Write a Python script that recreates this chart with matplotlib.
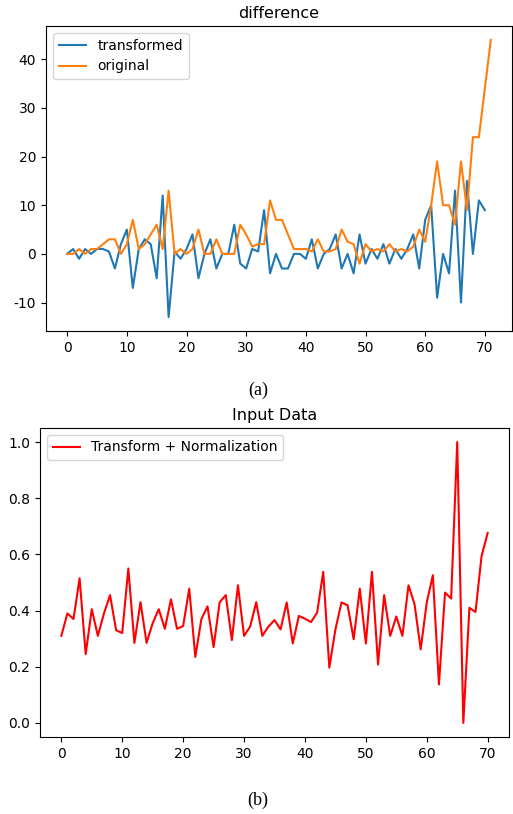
import matplotlib
matplotlib.use("Agg")
import matplotlib.pyplot as plt

plt.rcParams['axes.unicode_minus'] = False

# top panel: "difference"
transformed = [0, 1, -1, 1, 0, 1, 1, 0.5, -3, 2, 5, -7, 1, 3, 2, -5, 12, -13, 0.5, -1,
               1, 4, -5, 0, 3, -3, 0, 0, 6, -2, -3, 1, 0.5, 9, -4, 0, -3, -3, 0, 0,
               -1, 3, -3, 0, 1, 4, -3, 0, -4, 4, -2, 1, -1, 2, -2, 1, -1, 1, 4, -3,
               7, 10, -9, 0, -4, 13, -10, 15, 0, 11, 9]
original = [0, 0, 1, 0, 1, 1, 2, 3, 3, 0, 2, 7, 1, 2, 4, 6, 1, 13, 0, 1,
            0, 1, 5, 0, 0, 3, 0, 0, 0, 6, 4, 1.5, 2, 2, 11, 7, 7, 4, 1, 1,
            1, 0.5, 3, 0.5, 0.5, 1, 5, 2.5, 2, -2, 2, 0.5, 1, 0.5, 2, 0.5, 1, 0.5, 1.5, 5,
            2.5, 10, 19, 10, 10, 6, 19, 9, 24, 24, 34, 44]

# bottom panel: "Input Data"
normalized = [0.31, 0.39, 0.37, 0.515, 0.245, 0.405, 0.31, 0.39, 0.455, 0.33,
              0.32, 0.55, 0.285, 0.43, 0.285, 0.355, 0.405, 0.335, 0.44, 0.335,
              0.345, 0.478, 0.235, 0.37, 0.415, 0.27, 0.43, 0.455, 0.295, 0.49,
              0.31, 0.343, 0.43, 0.31, 0.343, 0.366, 0.333, 0.429, 0.283, 0.381,
              0.371, 0.359, 0.393, 0.538, 0.197, 0.333, 0.429, 0.419, 0.298, 0.478,
              0.283, 0.538, 0.208, 0.455, 0.31, 0.379, 0.31, 0.49, 0.422, 0.262,
              0.429, 0.526, 0.137, 0.464, 0.443, 1.0, 0.0, 0.41, 0.395, 0.595, 0.676]

fig = plt.figure(figsize=(5.13, 8.14), dpi=100)
W, H = 513, 814

ax1 = fig.add_axes([46 / W, 1 - 331 / H, 466 / W, 305 / H])
ax1.plot(range(len(transformed)), transformed, label="transformed")
ax1.plot(range(len(original)), original, label="original")
ax1.set_title("difference", fontsize=11.5)
ax1.set_yticks([-10, 0, 10, 20, 30, 40])
ax1.set_xticks(range(0, 71, 10))
ax1.tick_params(labelsize=10)
ax1.legend(loc="upper left", fontsize=10)

ax2 = fig.add_axes([40 / W, 1 - 737 / H, 469 / W, 309 / H])
ax2.plot(range(len(normalized)), normalized, color="r", label="Transform + Normalization")
ax2.set_title("Input Data", fontsize=11.5)
ax2.set_xticks(range(0, 71, 10))
ax2.tick_params(labelsize=10)
ax2.legend(loc="upper left", fontsize=10)

fig.text(258 / W, 1 - 390 / H, "(a)", family="Liberation Serif", fontsize=13,
         ha="center", va="center")
fig.text(258 / W, 1 - 800 / H, "(b)", family="Liberation Serif", fontsize=13,
         ha="center", va="center")

fig.savefig("out.png", dpi=100)
